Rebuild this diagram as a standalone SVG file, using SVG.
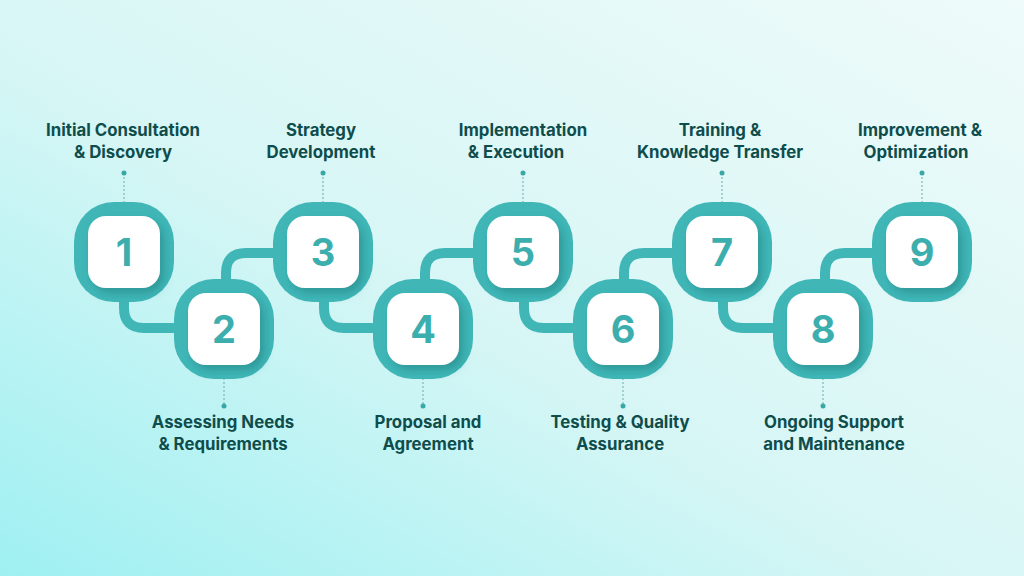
<svg xmlns="http://www.w3.org/2000/svg" width="1024" height="576" viewBox="0 0 1024 576">
<defs>
<linearGradient id="bg" x1="0" y1="1" x2="1" y2="0">
<stop offset="0" stop-color="#9ff0f2"/><stop offset="0.45" stop-color="#d6f6f5"/><stop offset="1" stop-color="#eefbfa"/>
</linearGradient>
<filter id="sh" x="-30%" y="-30%" width="160%" height="160%"><feDropShadow dx="4" dy="5" stdDeviation="4" flood-color="#1f7f80" flood-opacity="0.55"/></filter>
<g id="nd">
<rect x="-50" y="-50" width="100" height="100" rx="40" fill="#40b6b7"/>
<rect x="-36" y="-36" width="72" height="72" rx="18" fill="#ffffff" filter="url(#sh)"/>
</g>
</defs>
<style>
.l{font-family:Inter,"Liberation Sans",sans-serif;font-weight:700;font-size:16.8px;fill:#0e4d4c;text-anchor:middle}
.n{font-family:Inter,"Liberation Sans",sans-serif;font-weight:700;font-size:38px;fill:#3daeae;text-anchor:middle}
.c{fill:none;stroke:#40b6b7;stroke-width:10}
.d{stroke:#7fb8b8;stroke-width:1.2;stroke-dasharray:2 2}
.p{fill:#3aa7a7}
</style>
<rect width="1024" height="576" fill="url(#bg)"/>
<g id="connectors">
<path class="c" d="M124 290 V308 Q124 328 144 328 H190"/>
<path class="c" d="M226 290 V273 Q226 253 246 253 H290"/>
<path class="c" d="M324 290 V308 Q324 328 344 328 H390"/>
<path class="c" d="M425 290 V273 Q425 253 445 253 H490"/>
<path class="c" d="M524 290 V308 Q524 328 544 328 H590"/>
<path class="c" d="M624 290 V273 Q624 253 644 253 H690"/>
<path class="c" d="M723 290 V308 Q723 328 743 328 H790"/>
<path class="c" d="M825 290 V273 Q825 253 845 253 H890"/>
</g>
<g id="n1"><line class="d" x1="124" y1="173" x2="124" y2="202"/><circle class="p" cx="124" cy="173" r="2.5"/><use href="#nd" x="124" y="252"/><text class="n" x="124" y="266">1</text><text class="l" x="123" y="136">Initial Consultation</text><text class="l" x="123" y="158">&amp; Discovery</text></g>
<g id="n2"><line class="d" x1="224" y1="378" x2="224" y2="407"/><circle class="p" cx="224" cy="406" r="2.5"/><use href="#nd" x="224" y="329"/><text class="n" x="224" y="343">2</text><text class="l" x="223" y="428">Assessing Needs</text><text class="l" x="223" y="450">&amp; Requirements</text></g>
<g id="n3"><line class="d" x1="323" y1="173" x2="323" y2="202"/><circle class="p" cx="323" cy="173" r="2.5"/><use href="#nd" x="323" y="252"/><text class="n" x="323" y="266">3</text><text class="l" x="321" y="136">Strategy</text><text class="l" x="321" y="158">Development</text></g>
<g id="n4"><line class="d" x1="423" y1="378" x2="423" y2="407"/><circle class="p" cx="423" cy="406" r="2.5"/><use href="#nd" x="423" y="329"/><text class="n" x="423" y="343">4</text><text class="l" x="428" y="428">Proposal and</text><text class="l" x="428" y="450">Agreement</text></g>
<g id="n5"><line class="d" x1="523" y1="173" x2="523" y2="202"/><circle class="p" cx="523" cy="173" r="2.5"/><use href="#nd" x="523" y="252"/><text class="n" x="523" y="266">5</text><text class="l" x="523" y="136">Implementation</text><text class="l" x="516" y="158">&amp; Execution</text></g>
<g id="n6"><line class="d" x1="623" y1="378" x2="623" y2="407"/><circle class="p" cx="623" cy="406" r="2.5"/><use href="#nd" x="623" y="329"/><text class="n" x="623" y="343">6</text><text class="l" x="620" y="428">Testing &amp; Quality</text><text class="l" x="620" y="450">Assurance</text></g>
<g id="n7"><line class="d" x1="722" y1="173" x2="722" y2="202"/><circle class="p" cx="722" cy="173" r="2.5"/><use href="#nd" x="722" y="252"/><text class="n" x="722" y="266">7</text><text class="l" x="720" y="136">Training &amp;</text><text class="l" x="720" y="158">Knowledge Transfer</text></g>
<g id="n8"><line class="d" x1="823" y1="378" x2="823" y2="407"/><circle class="p" cx="823" cy="406" r="2.5"/><use href="#nd" x="823" y="329"/><text class="n" x="823" y="343">8</text><text class="l" x="834" y="428">Ongoing Support</text><text class="l" x="834" y="450">and Maintenance</text></g>
<g id="n9"><line class="d" x1="922" y1="173" x2="922" y2="202"/><circle class="p" cx="922" cy="173" r="2.5"/><use href="#nd" x="922" y="252"/><text class="n" x="922" y="266">9</text><text class="l" x="920" y="136">Improvement &amp;</text><text class="l" x="916" y="158">Optimization</text></g>
</svg>
